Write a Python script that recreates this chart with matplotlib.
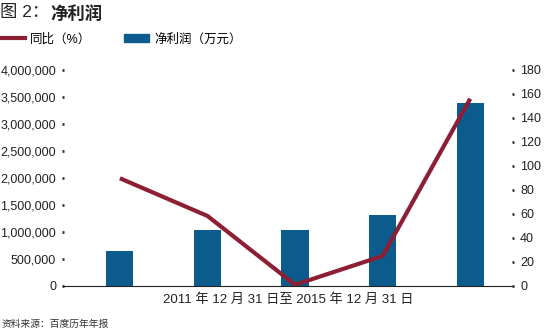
import matplotlib.pyplot as plt
from matplotlib.lines import Line2D
from matplotlib.patches import Patch

plt.rcParams['font.family'] = ['Liberation Sans', 'Noto Sans CJK SC', 'DejaVu Sans']

# 净利润（万元）
profit = [643000, 1037000, 1037000, 1315000, 3383000]
# 同比（%）
growth = [89.7, 58.3, 1.0, 25.0, 156.0]
x = list(range(len(profit)))

left_ticks = [0, 500000, 1000000, 1500000, 2000000, 2500000, 3000000, 3500000, 4000000]
right_ticks = [0, 20, 40, 60, 80, 100, 120, 140, 160, 180]

bar_color = '#0b5b8d'
line_color = '#8c1f33'

fig = plt.figure(figsize=(5.5, 3.36), dpi=100)
ax = fig.add_axes([0.1145, 0.149, 0.8185, 0.643])
ax.bar(x, profit, width=0.31, color=bar_color, zorder=2)
ax.set_ylim(0, 4000000)
ax.set_xlim(-0.65, 4.49)
ax.set_yticks(left_ticks)
ax.set_yticklabels(['{:,}'.format(v) for v in left_ticks])
ax.set_xticks([])
for s in ['top', 'left', 'right']:
    ax.spines[s].set_visible(False)
ax.spines['bottom'].set_linewidth(0.8)
ax.spines['bottom'].set_color('#222222')
ax.tick_params(axis='y', length=2, width=2, direction='inout', color='#333333',
               labelsize=9, pad=4, labelcolor='#222222')

ax2 = ax.twinx()
ax2.plot(x, growth, color=line_color, lw=3, zorder=3, solid_capstyle='butt')
ax2.set_ylim(0, 180)
ax2.set_yticks(right_ticks)
for s in ['top', 'left', 'right', 'bottom']:
    ax2.spines[s].set_visible(False)
ax2.tick_params(axis='y', length=2, width=2, direction='inout', color='#333333',
                labelsize=9, pad=4, labelcolor='#222222')

ax.set_xlabel('2011 年 12 月 31 日至 2015 年 12 月 31 日', fontsize=9.5,
              color='#222222', labelpad=5)

# 标题：前半普通，后半加粗
t1 = fig.text(0.0, 0.985, '图 2：', fontsize=12.5, va='top', ha='left', color='#222222')
fig.canvas.draw()
bb = t1.get_window_extent()
fig.text(bb.x1 / fig.bbox.width + 0.002, 0.985, '净利润', fontsize=12.5, fontweight='bold',
         va='top', ha='left', color='#222222')

# 图例
handles = [Line2D([0], [0], color=line_color, lw=3),
           Patch(color=bar_color)]
fig.legend(handles, ['同比（%）', '净利润（万元）'], loc='upper left',
           bbox_to_anchor=(-0.02, 0.935), ncol=2, frameon=False, fontsize=9,
           handlelength=2.0, handletextpad=0.4, columnspacing=2.6)

fig.text(0.002, 0.035, '资料来源：百度历年年报', fontsize=7, color='#333333', va='center')

fig.savefig('out.png', dpi=100)
